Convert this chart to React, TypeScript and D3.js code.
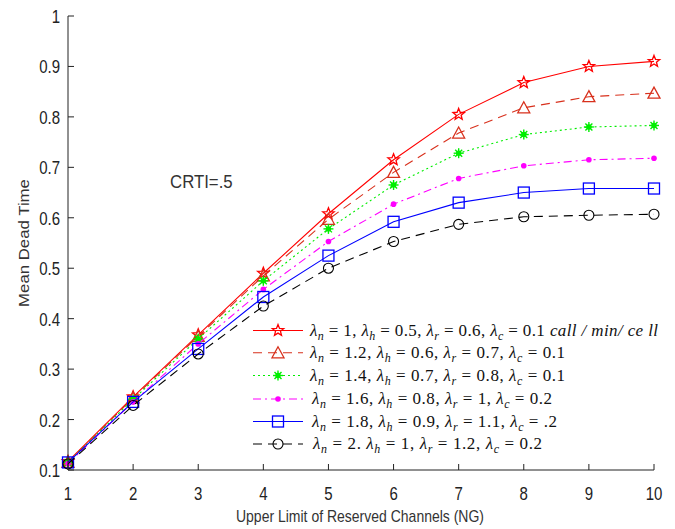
import React from "react";
import * as d3 from "d3";

const ngValues = [1, 2, 3, 4, 5, 6, 7, 8, 9, 10];
const yTicks = [0.1, 0.2, 0.3, 0.4, 0.5, 0.6, 0.7, 0.8, 0.9, 1];

const series1 = [0.117, 0.245, 0.368, 0.49, 0.608, 0.715, 0.805, 0.868, 0.9, 0.91];
const series2 = [0.115, 0.243, 0.365, 0.485, 0.597, 0.69, 0.768, 0.818, 0.84, 0.847];
const series3 = [0.115, 0.24, 0.36, 0.475, 0.578, 0.665, 0.728, 0.765, 0.78, 0.783];
const series4 = [0.113, 0.235, 0.35, 0.458, 0.553, 0.627, 0.678, 0.703, 0.715, 0.718];
const series5 = [0.115, 0.235, 0.34, 0.443, 0.525, 0.592, 0.63, 0.65, 0.658, 0.658];
const series6 = [0.112, 0.228, 0.33, 0.425, 0.5, 0.553, 0.587, 0.602, 0.605, 0.607];

// legend parameters: [λn, λh, λr, λc, suffix]
const legendParams = [
  ["1,", "0.5,", "0.6,", "0.1", " call / min/ ce ll"],
  ["1.2,", "0.6,", "0.7,", "0.1", ""],
  ["1.4,", "0.7,", "0.8,", "0.1", ""],
  ["1.6,", "0.8,", "1,", "0.2", ""],
  ["1.8,", "0.9,", "1.1,", ".2", ""],
  ["2.", "1,", "1.2,", "0.2", ""],
];

const seriesDefs = [
  { data: series1, color: "#ff0000", dash: "", marker: "star" },
  { data: series2, color: "#d8301c", dash: "9,6", marker: "triangle" },
  { data: series3, color: "#00ee00", dash: "2,3", marker: "asterisk" },
  { data: series4, color: "#ff00ff", dash: "8,4,2,4", marker: "dot" },
  { data: series5, color: "#0000ff", dash: "", marker: "square" },
  { data: series6, color: "#000000", dash: "9,6", marker: "circle" },
];

const x = d3.scaleLinear().domain([1, 10]).range([68, 654]);
const y = d3.scaleLinear().domain([0.1, 1]).range([470, 16]);

function Marker({ type, cx, cy, color }: { type: string; cx: number; cy: number; color: string }) {
  if (type === "star") {
    const pts: string[] = [];
    for (let i = 0; i < 10; i++) {
      const r = i % 2 === 0 ? 6 : 2.6;
      const a = -Math.PI / 2 + (i * Math.PI) / 5;
      pts.push(`${cx + r * Math.cos(a)},${cy + r * Math.sin(a)}`);
    }
    return <polygon points={pts.join(" ")} fill="none" stroke={color} strokeWidth={1.3} />;
  }
  if (type === "triangle") {
    return (
      <polygon
        points={`${cx},${cy - 6} ${cx - 6},${cy + 5} ${cx + 6},${cy + 5}`}
        fill="none"
        stroke={color}
        strokeWidth={1.3}
      />
    );
  }
  if (type === "asterisk") {
    return (
      <g stroke={color} strokeWidth={1.4}>
        <line x1={cx - 5} y1={cy} x2={cx + 5} y2={cy} />
        <line x1={cx} y1={cy - 5} x2={cx} y2={cy + 5} />
        <line x1={cx - 3.5} y1={cy - 3.5} x2={cx + 3.5} y2={cy + 3.5} />
        <line x1={cx - 3.5} y1={cy + 3.5} x2={cx + 3.5} y2={cy - 3.5} />
        <circle cx={cx} cy={cy} r={2} fill={color} />
      </g>
    );
  }
  if (type === "dot") {
    return <circle cx={cx} cy={cy} r={2.8} fill={color} />;
  }
  if (type === "square") {
    return <rect x={cx - 5.5} y={cy - 5.5} width={11} height={11} fill="none" stroke={color} strokeWidth={1.3} />;
  }
  return <circle cx={cx} cy={cy} r={5} fill="none" stroke={color} strokeWidth={1.1} />;
}

function Lam({ sub }: { sub: string }) {
  return (
    <>
      <tspan fontStyle="italic">λ</tspan>
      <tspan fontStyle="italic" fontSize={12} dy={4}>{sub}</tspan>
      <tspan dy={-4}>{" "}</tspan>
    </>
  );
}

export default function App() {
  const line = d3
    .line<number>()
    .x((_, i) => x(ngValues[i]))
    .y((d) => y(d));

  const legendX = 253;
  const legendRows = [330.5, 352.8, 375.5, 399, 421.5, 444];
  const legendStart = [310, 310, 310, 312, 312, 313];
  const legendEnd = [658, 565, 565, 552, 557, 542];

  return (
    <svg
      width={675}
      height={529}
      style={{ position: "absolute", left: 0, top: 0, background: "#fff" }}
      fontFamily="Liberation Sans, Arial, sans-serif"
    >
      <rect x={0} y={0} width={675} height={529} fill="#fff" />
      {/* series */}
      {seriesDefs.map((s, si) => (
        <g key={si}>
          <path d={line(s.data) || ""} fill="none" stroke={s.color} strokeWidth={1.1} strokeDasharray={s.dash} />
          {s.data.map((v, i) => (
            <Marker key={i} type={s.marker} cx={x(ngValues[i])} cy={y(v)} color={s.color} />
          ))}
        </g>
      ))}

      {/* axes */}
      <g stroke="#222" strokeWidth={1}>
        <line x1={x(1)} y1={y(0.1)} x2={x(10)} y2={y(0.1)} />
        <line x1={x(1)} y1={y(0.1)} x2={x(1)} y2={y(1)} />
        {ngValues.map((v) => (
          <line key={v} x1={x(v)} y1={y(0.1)} x2={x(v)} y2={y(0.1) - 6} />
        ))}
        {yTicks.map((v) => (
          <line key={v} x1={x(1)} y1={y(v)} x2={x(1) + 6} y2={y(v)} />
        ))}
      </g>
      <g fontSize={15} fill="#222">
        {ngValues.map((v) => (
          <text key={v} transform={`translate(${x(v)}, ${y(0.1) + 30}) scale(1, 1.25)`} textAnchor="middle">
            {v}
          </text>
        ))}
        {yTicks.map((v) => (
          <text key={v} transform={`translate(${x(1) - 8}, ${y(v) + 7}) scale(1, 1.25)`} textAnchor="end">
            {String(v)}
          </text>
        ))}
      </g>
      <text transform="translate(360, 522) scale(1, 1.2)" textAnchor="middle" fontSize={14} fill="#333">
        Upper Limit of Reserved Channels (NG)
      </text>
      <text
        transform={`translate(29, ${y(0.55)}) rotate(-90) scale(1.2, 1)`}
        textAnchor="middle"
        fontSize={14}
        fill="#333"
      >
        Mean Dead Time
      </text>
      <text transform="translate(170, 188) scale(1.05, 1.15)" fontSize={16} fill="#333">
        CRTI=.5
      </text>

      {/* legend */}
      <rect x={250} y={318} width={410} height={135} fill="#fff" />
      {seriesDefs.map((s, si) => {
        const ly = legendRows[si];
        const p = legendParams[si];
        return (
          <g key={si}>
            <line x1={legendX} y1={ly} x2={legendX + 50} y2={ly} stroke={s.color} strokeWidth={1.1} strokeDasharray={s.dash} />
            <Marker type={s.marker} cx={legendX + 25} cy={ly} color={s.color} />
            <text
              x={legendStart[si]}
              y={ly + 5}
              fontFamily="Liberation Serif, Times New Roman, serif"
              fontSize={17}
              fill="#111"
              textLength={legendEnd[si] - legendStart[si]}
              lengthAdjust="spacing"
            >
              <Lam sub="n" />
              {`= ${p[0]} `}
              <Lam sub="h" />
              {`= ${p[1]} `}
              <Lam sub="r" />
              {`= ${p[2]} `}
              <Lam sub="c" />
              {`= ${p[3]}`}
              {p[4] ? <tspan fontStyle="italic">{p[4]}</tspan> : null}
            </text>
          </g>
        );
      })}
    </svg>
  );
}
